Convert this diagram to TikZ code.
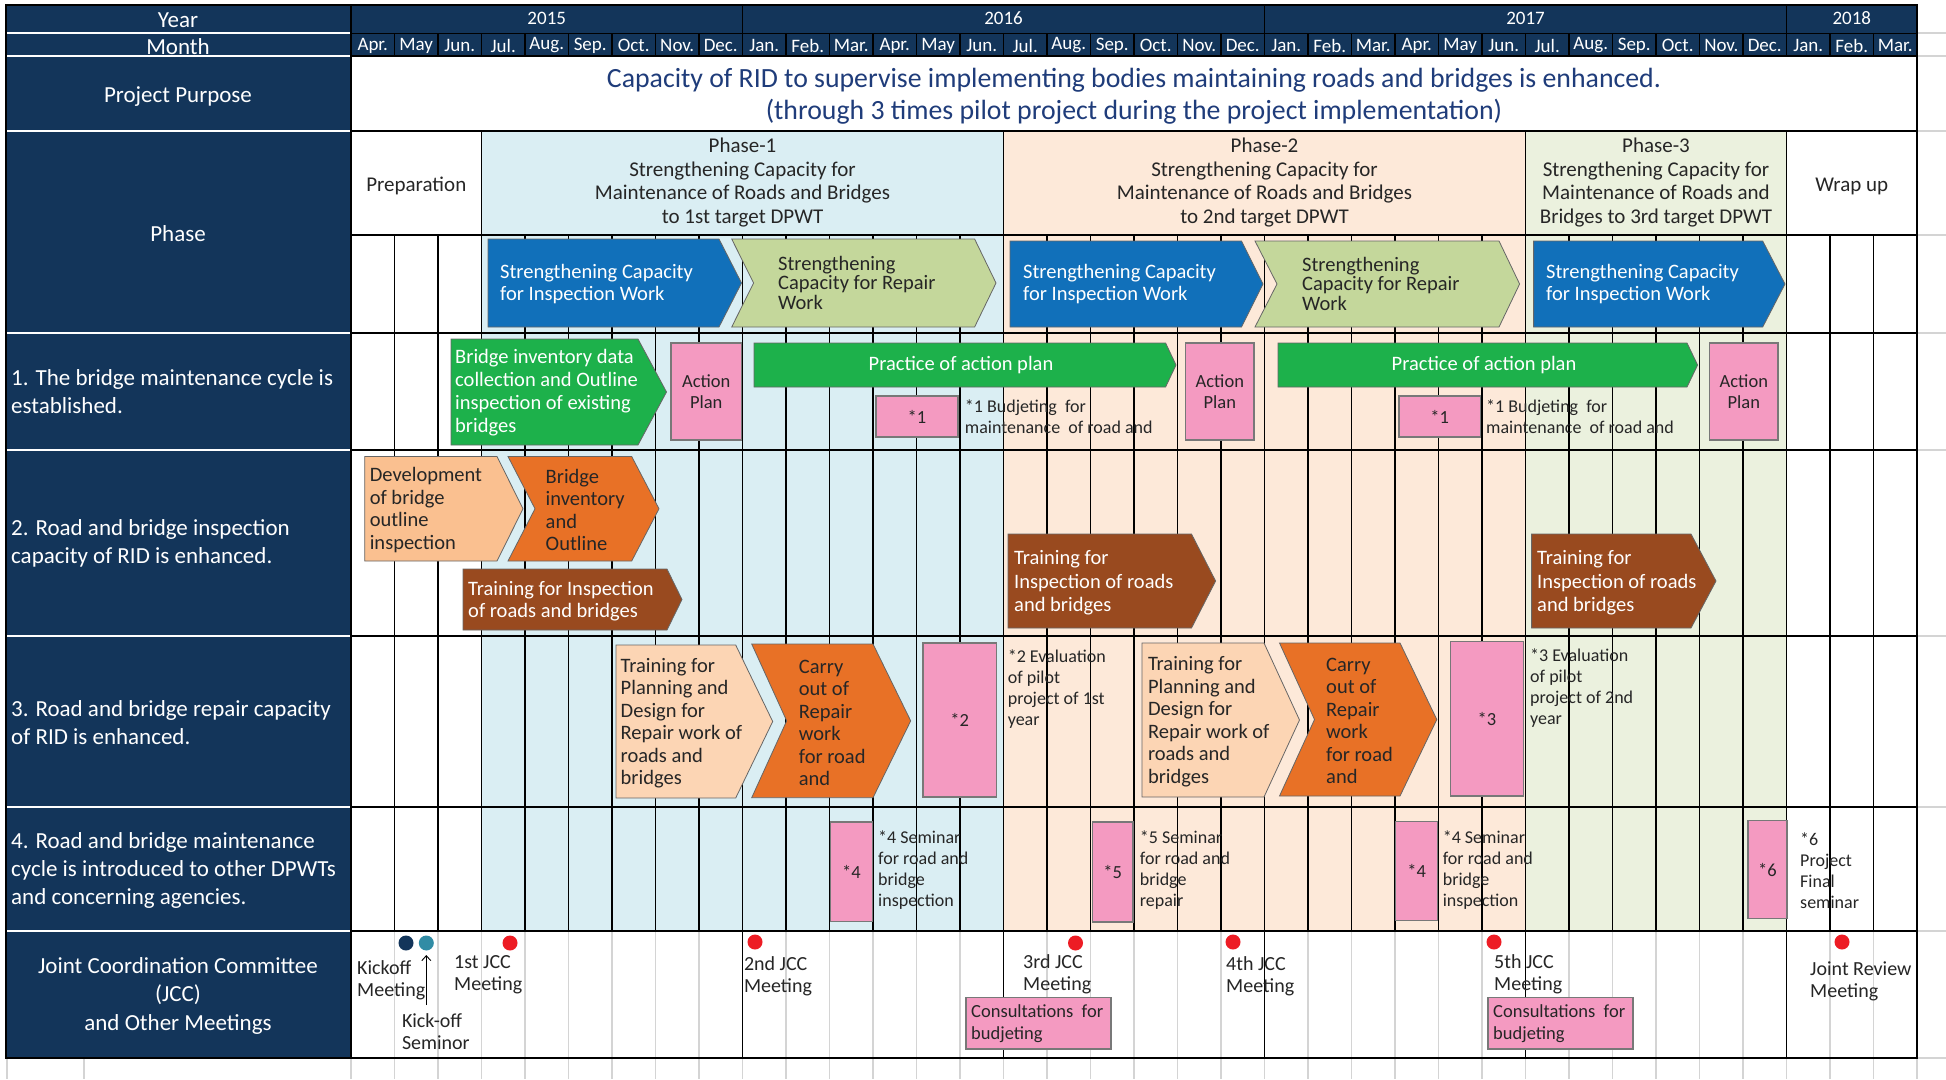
\documentclass[tikz,border=0pt]{standalone}
\usepackage{fontspec}
\setmainfont{Carlito}
\usetikzlibrary{arrows.meta}

\definecolor{navy}{RGB}{19,53,90}
\definecolor{blueb}{RGB}{17,112,186}
\definecolor{lgreen}{RGB}{196,215,155}
\definecolor{greenb}{RGB}{29,177,75}
\definecolor{pinkc}{RGB}{244,154,193}
\definecolor{peach}{RGB}{250,192,144}
\definecolor{peachlt}{RGB}{252,213,180}
\definecolor{orangeb}{RGB}{232,113,38}
\definecolor{brownb}{RGB}{153,74,31}
\definecolor{phone}{RGB}{218,238,243}
\definecolor{phtwo}{RGB}{253,233,217}
\definecolor{phthree}{RGB}{235,241,222}
\definecolor{redd}{RGB}{237,28,36}
\definecolor{tealc}{RGB}{49,140,165}
\definecolor{purp}{RGB}{31,60,122}
\definecolor{txtd}{RGB}{38,38,38}
\definecolor{gridlt}{RGB}{212,212,212}
\definecolor{boxgray}{RGB}{120,120,120}

\newcommand\fsz[2]{\fontsize{#1}{#2}\selectfont}
% pentagon arrow: fill, left x, body right x, tip x, top y, bottom y
\newcommand\pentbar[6]{\filldraw[barline,fill=#1] (#2,#5) -- (#3,#5) -- (#4,{(#5+#6)/2}) -- (#3,#6) -- (#2,#6) -- cycle;}
% chevron: fill, left x, notch x, body right x, tip x, top y, bottom y
\newcommand\chevbar[7]{\filldraw[barline,fill=#1] (#2,#6) -- (#4,#6) -- (#5,{(#6+#7)/2}) -- (#4,#7) -- (#2,#7) -- (#3,{(#6+#7)/2}) -- cycle;}

\tikzset{
  barline/.style={draw=black!60, line width=0.8},
  hdr/.style={text=white, font=\fsz{19}{21}, inner sep=0},
  side/.style={text=white, font=\fsz{23}{28}, align=left, anchor=west, inner sep=0},
  sidec/.style={text=white, font=\fsz{23}{28.5}, align=center, inner sep=0},
  phtxt/.style={text=txtd, font=\fsz{21}{23.5}, align=center, inner sep=0},
  barw/.style={text=white, font=\fsz{20.5}{22}, align=left, anchor=west, inner sep=0},
  bard/.style={text=txtd, font=\fsz{20.5}{22.5}, align=left, anchor=west, inner sep=0},
  boxtxt/.style={text=txtd, font=\fsz{18.5}{21}, align=center, inner sep=0},
  note/.style={text=txtd, font=\fsz{18}{21}, align=left, anchor=west, inner sep=0},
  meet/.style={text=txtd, font=\fsz{20}{22}, align=left, anchor=west, inner sep=0},
  pinkbox/.style={fill=pinkc, draw=boxgray, line width=1.2},
  gridd/.style={draw=black, line width=1.6},
  gridl/.style={draw=gridlt, line width=1.2},
  sep/.style={draw=white, line width=2},
}

\begin{document}
\begin{tikzpicture}[x=1pt,y=-1pt]
\useasboundingbox (0,0) rectangle (1946,1079);
\fill[white] (0,0) rectangle (1946,1079);

% ---------- spreadsheet gridlines outside the table ----------
\foreach \yy in {33,56,131,235,333,450,636,807,931,1058}
  \draw[gridl] (1917,\yy) -- (1946,\yy);
\foreach \xx in {7,84}
  \draw[gridl] (\xx,1058) -- (\xx,1079);
\foreach \i in {0,...,36}
  \draw[gridl] ({351+43.5*\i},1058) -- ({351+43.5*\i},1079);

% ---------- phase backgrounds ----------
\fill[phone]   ({351+43.5*3},131)  rectangle ({351+43.5*15},931);
\fill[phtwo]   ({351+43.5*15},131) rectangle ({351+43.5*27},931);
\fill[phthree] ({351+43.5*27},131) rectangle ({351+43.5*33},931);

% ---------- left label column ----------
\fill[navy] (6,5) rectangle (351,1058);
\foreach \yy in {33,56,131,333,450,636,807,931}
  \draw[sep] (6,\yy) -- (351,\yy);

\node[sidec] (lyear)  at (178,20.5) {Year};
\node[sidec] (lmonth) at (178,47)   {Month};
\node[sidec] (lpurp)  at (178,97)   {Project Purpose};
\node[sidec] (lphase) at (178,233.5) {Phase};
\node[side]  (lout1)  at (11,392)   {1. The bridge maintenance cycle is\\established.};
\node[side]  (lout2)  at (11,543)   {2. Road and bridge inspection\\capacity of RID is enhanced.};
\node[side]  (lout3)  at (11,723)   {3. Road and bridge repair capacity\\of RID is enhanced.};
\node[side]  (lout4)  at (11,870.5) {4. Road and bridge maintenance\\cycle is introduced to other DPWTs\\and concerning agencies.};
\node[sidec] (ljcc)   at (178,995.5) {Joint Coordination Committee\\(JCC)\\and Other Meetings};

% ---------- year / month header ----------
\fill[navy] (351,5) rectangle (1917,56);
\draw[draw=black, line width=1] (351,33) -- (1917,33);
\foreach \i in {9,21,33}
  \draw[draw=black, line width=1.2] ({351+43.5*\i},5) -- ({351+43.5*\i},33);
\foreach \i in {1,...,35}
  \draw[draw=black, line width=1.2] ({351+43.5*\i},33) -- ({351+43.5*\i},56);
\node[hdr] (y2015) at ({351+43.5*4.5},18.5) {2015};
\node[hdr] (y2016) at ({351+43.5*15},18.5)  {2016};
\node[hdr] (y2017) at ({351+43.5*27},18.5)  {2017};
\node[hdr] (y2018) at ({351+43.5*34.5},18.5) {2018};
\foreach \m [count=\i from 0] in {Apr.,May,Jun.,Jul.,Aug.,Sep.,Oct.,Nov.,Dec.,Jan.,Feb.,Mar.,Apr.,May,Jun.,Jul.,Aug.,Sep.,Oct.,Nov.,Dec.,Jan.,Feb.,Mar.,Apr.,May,Jun.,Jul.,Aug.,Sep.,Oct.,Nov.,Dec.,Jan.,Feb.,Mar.}
  \node[hdr] (mon\i) at ({351+43.5*\i+21.75},45.5) {\m};

% ---------- project purpose ----------
\node[text=purp, font=\fsz{27.8}{32.3}, align=center, inner sep=0] (purpose) at (1134,96)
  {Capacity of RID to supervise implementing bodies maintaining roads and bridges is enhanced.\\(through 3 times pilot project during the project implementation)};

% ---------- grid ----------
\foreach \i in {1,...,35}
  \draw[gridd] ({351+43.5*\i},235) -- ({351+43.5*\i},931);
\foreach \i in {3,15,27,33}
  \draw[gridd] ({351+43.5*\i},131) -- ({351+43.5*\i},235);
\foreach \i in {1,...,35}
  \draw[gridl] ({351+43.5*\i},931) -- ({351+43.5*\i},1058);
\foreach \i in {9,15,21,27,33}
  \draw[gridd] ({351+43.5*\i},931) -- ({351+43.5*\i},1058);
\foreach \yy in {56,131,235,333,450,636,807,931}
  \draw[gridd] (351,\yy) -- (1917,\yy);
\draw[gridd] (351,5) -- (351,1058);
\draw[gridd] (1917,5) -- (1917,1058);
\draw[gridd] (6,5) rectangle (1917,1058);

% ---------- phase headings ----------
\node[phtxt] (prep) at ({351+43.5*1.5},186) {Preparation};
\node[phtxt] (phase1) at ({351+43.5*9},182.5)  {Phase-1\\Strengthening Capacity for\\Maintenance of Roads and Bridges\\to 1st target DPWT};
\node[phtxt] (phase2) at ({351+43.5*21},182.5) {Phase-2\\Strengthening Capacity for\\Maintenance of Roads and Bridges\\to 2nd target DPWT};
\node[phtxt] (phase3) at ({351+43.5*30},182.5) {Phase-3\\Strengthening Capacity for\\Maintenance of Roads and\\Bridges to 3rd target DPWT};
\node[phtxt] (wrap) at ({351+43.5*34.5},186) {Wrap up};

% ---------- phase work bars ----------
\pentbar{blueb}{488}{719}{741.5}{239}{327}
\node[barw] (insp1) at (500,284) {Strengthening Capacity\\for Inspection Work};
\chevbar{lgreen}{731.7}{753.6}{974.6}{996}{239}{327}
\node[bard, font=\fsz{20.5}{19.5}] (rep1) at (778,282.5) {Strengthening\\Capacity for Repair\\Work};
\pentbar{blueb}{1010}{1241.5}{1263}{241}{327}
\node[barw] (insp2) at (1023,284.5) {Strengthening Capacity\\for Inspection Work};
\chevbar{lgreen}{1255}{1277}{1499}{1519.6}{241}{327}
\node[bard, font=\fsz{20.5}{19.5}] (rep2) at (1302,283.5) {Strengthening\\Capacity for Repair\\Work};
\pentbar{blueb}{1533.6}{1762.7}{1785}{241}{327}
\node[barw] (insp3) at (1546,284.5) {Strengthening Capacity\\for Inspection Work};

% ---------- output 1 ----------
\pentbar{greenb}{451}{638}{666.5}{339}{445}
\node[barw, font=\fsz{20.5}{23}] (inv) at (455,393) {Bridge inventory data\\collection and Outline\\inspection of existing\\bridges};
\filldraw[pinkbox] (671,343) rectangle (741.5,440);
\node[boxtxt] (ap1) at (706.2,392) {Action\\Plan};
\pentbar{greenb}{754}{1165.6}{1176}{343}{387}
\node[barw, anchor=center, align=center] (pap1) at (961,365.5) {Practice of action plan};
\filldraw[pinkbox] (876,396) rectangle (958,437);
\node[boxtxt] (s1a) at (917,416.5) {*1};
\node[note] (n1a) at (964.7,417) {*1 Budjeting\ \ for\\maintenance\ \ of road and};
\filldraw[pinkbox] (1185.7,343) rectangle (1254,440);
\node[boxtxt] (ap2) at (1219.8,392) {Action\\Plan};
\pentbar{greenb}{1278}{1687}{1697.6}{343}{387}
\node[barw, anchor=center, align=center] (pap2) at (1484,365.5) {Practice of action plan};
\filldraw[pinkbox] (1399,396) rectangle (1480.5,437);
\node[boxtxt] (s1b) at (1439.7,416.5) {*1};
\node[note] (n1b) at (1486,417) {*1 Budjeting\ \ for\\maintenance\ \ of road and};
\filldraw[pinkbox] (1709.6,343) rectangle (1778,440);
\node[boxtxt] (ap3) at (1743.8,392) {Action\\Plan};

% ---------- output 2 ----------
\pentbar{peach}{364.7}{497}{523}{456.5}{561}
\node[bard] (dev) at (369.6,510) {Development\\of bridge\\outline\\inspection};
\chevbar{orangeb}{508}{535}{631.7}{659}{456.5}{561}
\node[bard] (binv) at (545.5,510) {Bridge\\inventory\\and\\Outline};
\pentbar{brownb}{463}{667}{682}{569}{630}
\node[barw] (tr1) at (468,601) {Training for Inspection\\of roads and bridges};
\pentbar{brownb}{1008}{1191.5}{1215.6}{534}{628}
\node[barw, font=\fsz{20.5}{23.3}] (tr2) at (1014,583) {Training for\\Inspection of roads\\and bridges};
\pentbar{brownb}{1531.6}{1691}{1716}{534}{628}
\node[barw, font=\fsz{20.5}{23.3}] (tr3) at (1537,583) {Training for\\Inspection of roads\\and bridges};

% ---------- output 3 ----------
\pentbar{peachlt}{616}{735.7}{772.7}{645}{798}
\node[bard] (trp1) at (620.5,723) {Training for\\Planning and\\Design for\\Repair work of\\roads and\\bridges};
\chevbar{orangeb}{751.7}{786.7}{873}{910.7}{644}{797.7}
\node[bard] (car1) at (798.7,723) {Carry\\out of\\Repair\\work\\for road\\and};
\filldraw[pinkbox] (923,643) rectangle (996.4,797);
\node[boxtxt] (s2) at (959.7,720) {*2};
\node[note] (n2) at (1007.6,689) {*2 Evaluation\\of pilot\\project of 1st\\year};
\pentbar{peachlt}{1142}{1264}{1299.5}{643}{797}
\node[bard] (trp2) at (1147.8,721.5) {Training for\\Planning and\\Design for\\Repair work of\\roads and\\bridges};
\chevbar{orangeb}{1279.5}{1314.5}{1400}{1436.8}{643}{796}
\node[bard] (car2) at (1326,721) {Carry\\out of\\Repair\\work\\for road\\and};
\filldraw[pinkbox] (1450.8,641.7) rectangle (1523.3,796);
\node[boxtxt] (s3) at (1487,719) {*3};
\node[note] (n3) at (1530,688.5) {*3 Evaluation\\of pilot\\project of 2nd\\year};

% ---------- output 4 ----------
\filldraw[pinkbox] (830.8,822) rectangle (872.3,921.7);
\node[boxtxt] (s4a) at (851.5,872) {*4};
\node[note] (n4a) at (878,870) {*4 Seminar\\for road and\\bridge\\inspection};
\filldraw[pinkbox] (1092.4,822) rectangle (1133,922);
\node[boxtxt] (s5) at (1112.7,872) {*5};
\node[note] (n5) at (1139.7,870) {*5 Seminar\\for road and\\bridge\\repair};
\filldraw[pinkbox] (1395.6,821.7) rectangle (1437.6,920.7);
\node[boxtxt] (s4b) at (1416.6,871) {*4};
\node[note] (n4b) at (1442.6,870) {*4 Seminar\\for road and\\bridge\\inspection};
\filldraw[pinkbox] (1748,820.7) rectangle (1787,918.7);
\node[boxtxt] (s6) at (1767.5,870) {*6};
\node[note] (n6) at (1800,871) {*6\\Project\\Final\\seminar};

% ---------- meetings ----------
\fill[navy]  (406,943) circle (7.5);
\fill[tealc] (426.3,943) circle (7.5);
\fill[redd] (510,943) circle (7.5);
\fill[redd] (755,942) circle (7.5);
\fill[redd] (1075.5,943) circle (7.5);
\fill[redd] (1233,942) circle (7.5);
\fill[redd] (1494,942) circle (7.5);
\fill[redd] (1842,942) circle (7.5);

\node[meet] (kick) at (357,980) {Kickoff\\Meeting};
\node[meet] (ksem) at (401.8,1032) {Kick-off\\Seminor};
\coordinate (ksemtop) at (426.3,1005);
\coordinate (ksemdot) at (426.3,955);
\draw[line width=0.9, -{Straight Barb[length=5pt,width=9pt]}] (ksemtop) -- (ksemdot);
\node[meet] (jcc1) at (454,974.5) {1st JCC\\Meeting};
\node[meet] (jcc2) at (743.8,976.5) {2nd JCC\\Meeting};
\node[meet] (jcc3) at (1023,974.5) {3rd JCC\\Meeting};
\node[meet] (jcc4) at (1226,976.5) {4th JCC\\Meeting};
\node[meet] (jcc5) at (1494,974.5) {5th JCC\\Meeting};
\node[meet] (jrm) at (1810,981) {Joint Review\\Meeting};

\filldraw[pinkbox] (966,997.7) rectangle (1111,1049);
\node[note, font=\fsz{18.5}{22}] (cons1) at (971,1024) {Consultations\ \ for\\budjeting};
\filldraw[pinkbox] (1488,997.7) rectangle (1633,1049);
\node[note, font=\fsz{18.5}{22}] (cons2) at (1493,1024) {Consultations\ \ for\\budjeting};
\end{tikzpicture}
\end{document}
